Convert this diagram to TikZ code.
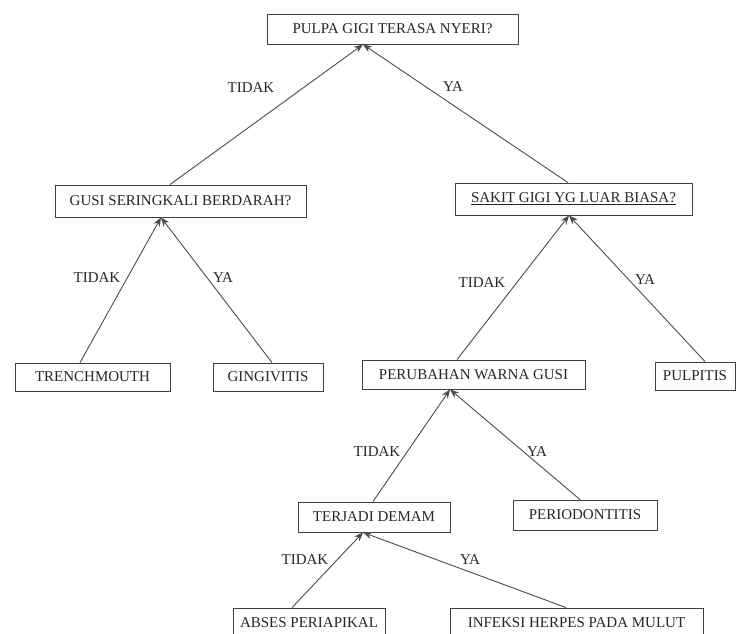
\documentclass[tikz,border=0pt]{standalone}
\usepackage{fontspec}
\setmainfont{Liberation Serif}
\usetikzlibrary{arrows.meta}

\tikzset{
  qbox/.style={draw=black!75, line width=0.9pt, rectangle, inner sep=0pt,
    font=\fontsize{15}{18}\selectfont, text=black!85},
  ans/.style={font=\fontsize{15}{18}\selectfont, text=black!85, inner sep=0pt},
  link/.style={draw=black!70, line width=0.9pt,
    -{Stealth[length=9pt,width=7pt]}},
}

\begin{document}
\begin{tikzpicture}[x=1pt,y=-1pt]
  \clip (0,0) rectangle (742,633);
  \fill[white] (0,0) rectangle (742,633);

  % question and diagnosis boxes
  \node[qbox, minimum width=251, minimum height=30] (root)    at (392.5,29)  {PULPA GIGI TERASA NYERI?};
  \node[qbox, minimum width=251, minimum height=32] (gusi)    at (180.5,201) {GUSI SERINGKALI BERDARAH?};
  \node[qbox, minimum width=237, minimum height=32] (sakit)   at (573.5,199) {\underline{SAKIT GIGI YG LUAR BIASA?}};
  \node[qbox, minimum width=155, minimum height=28] (trench)  at (92.5,377)  {TRENCHMOUTH};
  \node[qbox, minimum width=110, minimum height=28] (gingiv)  at (268,377)   {GINGIVITIS};
  \node[qbox, minimum width=223, minimum height=29] (warna)   at (473.5,374.5) {PERUBAHAN WARNA GUSI};
  \node[qbox, minimum width=80,  minimum height=28] (pulpit)  at (695,376)   {PULPITIS};
  \node[qbox, minimum width=152, minimum height=30] (demam)   at (374,517)   {TERJADI DEMAM};
  \node[qbox, minimum width=144, minimum height=30] (period)  at (585,515)   {PERIODONTITIS};
  \node[qbox, minimum width=152, minimum height=30] (abses)   at (309,623)   {ABSES PERIAPIKAL};
  \node[qbox, minimum width=253, minimum height=30] (herpes)  at (576.5,623) {INFEKSI HERPES PADA MULUT};

  % arrow tips on the lower edge of each question box
  \coordinate (rootTip)  at ([xshift=-29.5]root.south);
  \coordinate (gusiTip)  at ([xshift=-19.5]gusi.south);
  \coordinate (sakitTip) at ([xshift=-4.5]sakit.south);
  \coordinate (warnaTip) at ([xshift=-23.5]warna.south);
  \coordinate (demamTip) at ([xshift=-11]demam.south);

  % connectors
  \draw[link] ([xshift=-10.5]gusi.north)   -- (rootTip);
  \draw[link] ([xshift=-5.5]sakit.north)   -- (rootTip);
  \draw[link] ([xshift=-12.5]trench.north) -- (gusiTip);
  \draw[link] ([xshift=4]gingiv.north)     -- (gusiTip);
  \draw[link] ([xshift=-16.5]warna.north)  -- (sakitTip);
  \draw[link] ([xshift=10]pulpit.north)    -- (sakitTip);
  \draw[link] ([xshift=-1]demam.north)     -- (warnaTip);
  \draw[link] ([xshift=-5]period.north)    -- (warnaTip);
  \draw[link] ([xshift=-17]abses.north)    -- (demamTip);
  \draw[link] ([xshift=-10.5]herpes.north) -- (demamTip);

  % answer labels
  \node[ans] (l1) at (251,88)  {TIDAK};
  \node[ans] (l2) at (453,87)  {YA};
  \node[ans] (l3) at (97,278)  {TIDAK};
  \node[ans] (l4) at (223,278) {YA};
  \node[ans] (l5) at (482,283) {TIDAK};
  \node[ans] (l6) at (645,280) {YA};
  \node[ans] (l7) at (377,452) {TIDAK};
  \node[ans] (l8) at (537,452) {YA};
  \node[ans] (l9) at (305,560) {TIDAK};
  \node[ans] (l10) at (470,560) {YA};
\end{tikzpicture}
\end{document}
